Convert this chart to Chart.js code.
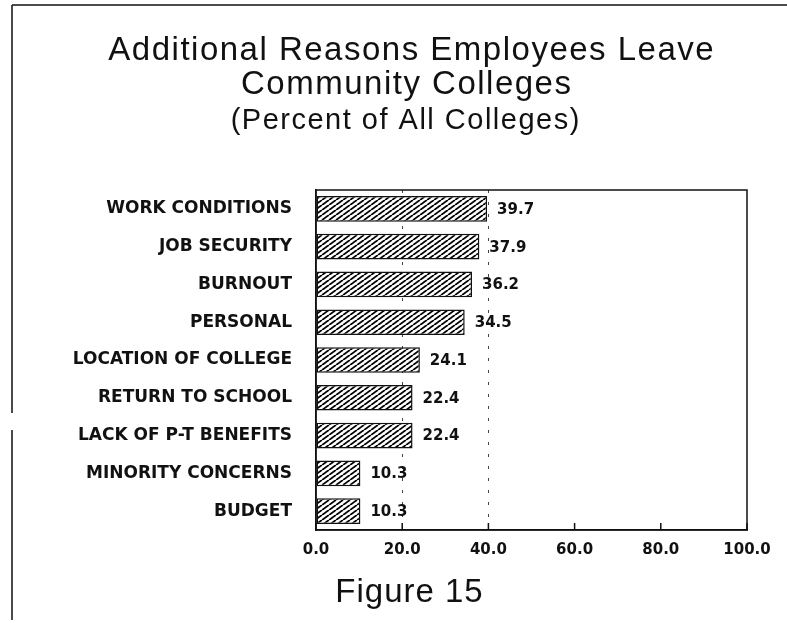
<!DOCTYPE html>
<html>
<head>
<meta charset="utf-8">
<script src="https://cdn.jsdelivr.net/npm/chart.js@4.4.1/dist/chart.umd.min.js"></script>
<style>
  html, body { margin: 0; padding: 0; background: #fff; }
  #wrap { width: 787px; height: 623px; position: relative; }
</style>
</head>
<body>
<div id="wrap"><canvas id="mycanvas" width="787" height="623"></canvas></div>
<script>
// data
var reasons = ["WORK CONDITIONS", "JOB SECURITY", "BURNOUT", "PERSONAL", "LOCATION OF COLLEGE",
               "RETURN TO SCHOOL", "LACK OF P-T BENEFITS", "MINORITY CONCERNS", "BUDGET"];
var percents = [39.7, 37.9, 36.2, 34.5, 24.1, 22.4, 22.4, 10.3, 10.3];
var xTicks = [0, 20, 40, 60, 80, 100];
var titleLines = ["Additional Reasons Employees Leave", "Community Colleges"];
var subTitle = "(Percent of All Colleges)";
var caption = "Figure 15";

function makeHatch() {
	var c = document.createElement('canvas');
	c.width = 7; c.height = 5;
	var g = c.getContext('2d');
	g.fillStyle = '#fff';
	g.fillRect(0, 0, 7, 5);
	g.strokeStyle = '#000';
	g.lineWidth = 1.8;
	[-7, 0, 7].forEach(function(dx){
		g.beginPath();
		g.moveTo(dx, 5);
		g.lineTo(dx + 7, 0);
		g.stroke();
	});
	return g.createPattern(c, 'repeat');
}

function spacedText(ctx, txt, x, y, spacing) {
	ctx.letterSpacing = spacing + 'px';
	ctx.fillText(txt, x + spacing / 2, y);
	ctx.letterSpacing = '0px';
}

// titles, page frame, box, inner ticks and value labels
var decor = {
	id: 'decor',
	beforeDraw: function(chart) {
		var ctx = chart.ctx;
		ctx.save();
		ctx.fillStyle = '#fff';
		ctx.fillRect(0, 0, chart.width, chart.height);
		ctx.strokeStyle = '#111';
		ctx.lineWidth = 1.5;
		ctx.beginPath();
		ctx.moveTo(12, 5); ctx.lineTo(787, 5);
		ctx.moveTo(12, 5); ctx.lineTo(12, 413);
		ctx.moveTo(12, 430); ctx.lineTo(12, 620);
		ctx.stroke();
		ctx.fillStyle = '#111';
		ctx.textAlign = 'center';
		ctx.textBaseline = 'alphabetic';
		ctx.font = '33px "Liberation Sans", Arial, sans-serif';
		spacedText(ctx, titleLines[0], 411, 60, 1.5);
		spacedText(ctx, titleLines[1], 406, 94, 1.5);
		ctx.font = '29px "Liberation Sans", Arial, sans-serif';
		spacedText(ctx, subTitle, 405, 129, 1.5);
		ctx.font = '33px "Liberation Sans", Arial, sans-serif';
		spacedText(ctx, caption, 409, 602, 1);
		ctx.restore();
	},
	afterDatasetsDraw: function(chart) {
		var ctx = chart.ctx;
		var a = chart.chartArea;
		var xs = chart.scales.x;
		ctx.save();
		ctx.strokeStyle = '#111';
		ctx.lineWidth = 1.5;
		ctx.strokeRect(a.left, a.top, a.right - a.left, a.bottom - a.top);
		ctx.beginPath();
		xTicks.forEach(function(v){
			var px = xs.getPixelForValue(v);
			ctx.moveTo(px, a.bottom);
			ctx.lineTo(px, a.bottom - 7);
		});
		ctx.stroke();
		ctx.fillStyle = '#111';
		ctx.font = 'bold 15px "DejaVu Sans", sans-serif';
		ctx.textAlign = 'left';
		ctx.textBaseline = 'middle';
		var meta = chart.getDatasetMeta(0);
		meta.data.forEach(function(bar, i){
			ctx.fillText(percents[i].toFixed(1), bar.x + 10, bar.y + 1);
		});
		ctx.restore();
	}
};

var ctx = document.getElementById('mycanvas');
var barGraph = new Chart(ctx, {
	type: 'bar',
	data: {
		labels: reasons,
		datasets: [{
			data: percents,
			backgroundColor: makeHatch(),
			borderColor: '#111',
			borderWidth: 1.5,
			borderSkipped: false,
			categoryPercentage: 1,
			barPercentage: 0.68
		}]
	},
	plugins: [decor],
	options: {
		indexAxis: 'y',
		responsive: false,
		animation: false,
		devicePixelRatio: 1,
		layout: { padding: { top: 190, right: 40, left: 0, bottom: 0 } },
		plugins: {
			legend: { display: false },
			tooltip: { enabled: false }
		},
		scales: {
			x: {
				min: 0,
				max: 100,
				afterBuildTicks: function(scale){
					scale.ticks = xTicks.map(function(v){ return { value: v }; });
				},
				afterFit: function(scale){ scale.height = 93; },
				grid: {
					drawTicks: false,
					color: function(c){
						return (c.tick && (c.tick.value === 20 || c.tick.value === 40)) ? '#444' : 'rgba(0,0,0,0)';
					},
					lineWidth: 1
				},
				border: { display: true, color: '#111', width: 1.5, dash: [3, 9] },
				ticks: {
					color: '#111',
					padding: 11,
					font: { family: '"DejaVu Sans", sans-serif', size: 15, weight: 'bold' },
					callback: function(v){ return Number(v).toFixed(1); }
				}
			},
			y: {
				afterFit: function(scale){ scale.width = 316; },
				grid: { display: false, drawTicks: false },
				border: { display: true, color: '#111', width: 1.5 },
				ticks: {
					color: '#111',
					padding: 24,
					font: { family: '"DejaVu Sans", sans-serif', size: 17, weight: 'bold' }
				}
			}
		}
	}
});
</script>
</body>
</html>
